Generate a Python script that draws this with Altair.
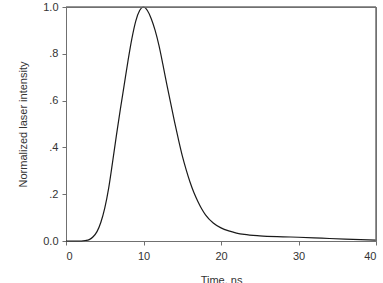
import altair as alt
import pandas as pd

time_ns = [0, 2, 2.5, 3, 3.5, 4, 4.5, 5, 5.5, 6, 6.5, 7, 7.5, 8, 8.5, 9, 9.5, 10,
           10.5, 11, 11.5, 12, 12.5, 13, 13.5, 14, 14.5, 15, 15.5, 16, 16.5, 17,
           17.5, 18, 19, 20, 21, 22, 23, 25, 28, 30, 33, 36, 40]
intensity = [0.0, 0.0, 0.002, 0.006, 0.018, 0.04, 0.08, 0.14, 0.225, 0.335,
             0.45, 0.56, 0.665, 0.77, 0.865, 0.94, 0.985, 1.0, 0.985, 0.95,
             0.9, 0.835, 0.755, 0.67, 0.59, 0.51, 0.435, 0.365, 0.305, 0.252,
             0.207, 0.17, 0.138, 0.112, 0.077, 0.056, 0.043, 0.034, 0.028, 0.022,
             0.018, 0.016, 0.012, 0.008, 0.004]
x_ticks = [0, 10, 20, 30, 40]
y_ticks = [0.0, 0.2, 0.4, 0.6, 0.8, 1.0]
x_max = [40]
y_max = [1.0]

df = pd.DataFrame({"t": time_ns, "v": intensity})

FONT = "Liberation Sans"
GRAY = "#707070"

x_scale = alt.Scale(domain=[0, 40], nice=False)
y_scale = alt.Scale(domain=[0, 1], nice=False)

x_axis = alt.Axis(values=x_ticks, title="Time, ns", grid=False,
                  tickSize=4, labelPadding=5, titlePadding=13,
                  domainColor=GRAY, tickColor=GRAY,
                  labelFont=FONT, titleFont=FONT, labelFontSize=11,
                  titleFontSize=11, titleFontWeight="normal",
                  labelColor="#333333", titleColor="#333333")
y_axis = alt.Axis(values=y_ticks, title="Normalized laser intensity", grid=False,
                  tickSize=4, labelPadding=4, titlePadding=14,
                  labelExpr="datum.value == 0 ? '0.0' : (datum.value == 1 ? '1.0' : replace(format(datum.value, '.1f'), '0.', '.'))",
                  domainColor=GRAY, tickColor=GRAY,
                  labelFont=FONT, titleFont=FONT, labelFontSize=11,
                  titleFontSize=11, titleFontWeight="normal",
                  labelColor="#333333", titleColor="#333333")

line = alt.Chart(df).mark_line(color="#1a1a1a", strokeWidth=1.2, interpolate="monotone").encode(
    x=alt.X("t:Q", scale=x_scale, axis=x_axis),
    y=alt.Y("v:Q", scale=y_scale, axis=y_axis),
)

top_rule = alt.Chart(pd.DataFrame({"ym": y_max})).mark_rule(color=GRAY, strokeWidth=1.5).encode(
    y=alt.Y("ym:Q", scale=y_scale, axis=None),
    x=alt.value(0),
    x2=alt.value(310),
)
right_rule = alt.Chart(pd.DataFrame({"xm": x_max})).mark_rule(color=GRAY, strokeWidth=1.5).encode(
    x=alt.X("xm:Q", scale=x_scale, axis=None),
    y=alt.value(0),
    y2=alt.value(234),
)

chart = alt.layer(line, top_rule, right_rule).resolve_axis(
    x="independent", y="independent"
).properties(
    width=310, height=234,
    autosize=alt.AutoSizeParams(type="none"),
    padding={"left": 66, "top": 7, "right": 7, "bottom": 42},
).configure(
    background="white",
    view=alt.ViewConfig(stroke=GRAY, strokeWidth=1),
)

chart.save("out.html", embed_options={"renderer": "svg", "actions": False})
